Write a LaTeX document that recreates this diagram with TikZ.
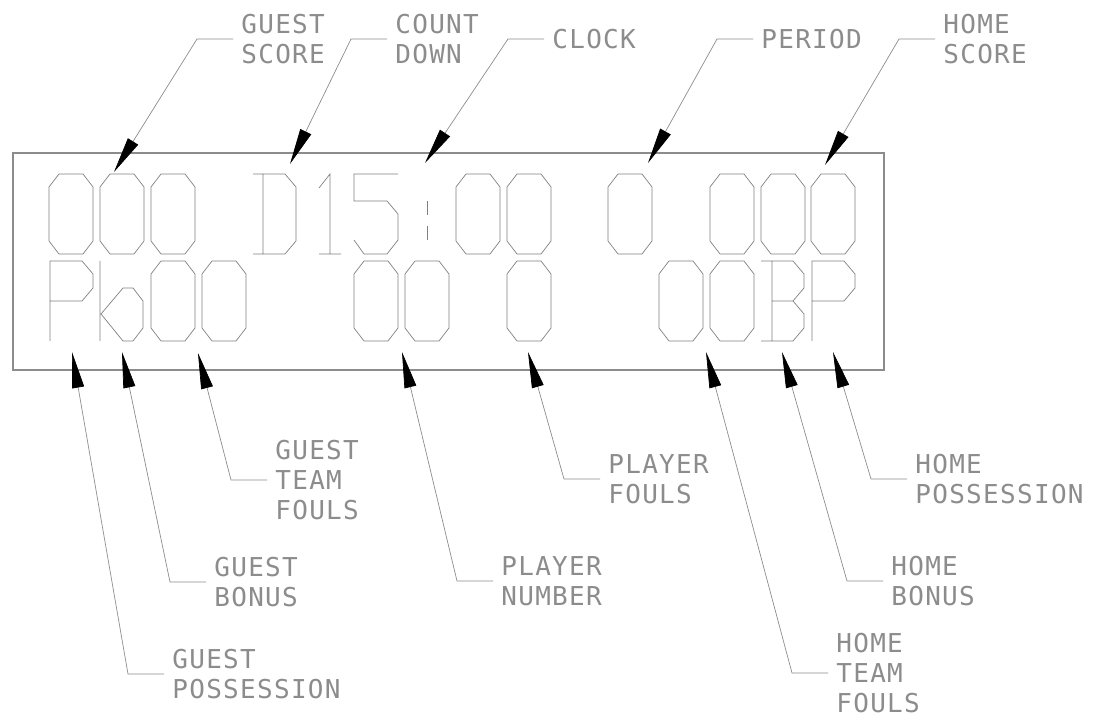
\documentclass[tikz,border=0pt]{standalone}
\usepackage{fontspec}
\newfontfamily\cadfont[LetterSpace=5]{DejaVu Sans Mono}
\usetikzlibrary{arrows.meta}

\tikzset{
	seg/.style={draw=black!50, line width=0.35pt, line join=miter},
	frame/.style={draw=black!45, line width=0.6pt},
	lead/.style={draw=black!45, line width=0.35pt, -{Triangle[length=18pt,width=6pt,color=black]}},
	lbl/.style={anchor=west, align=left, inner xsep=4pt, inner ysep=0pt, text=black!45, font=\cadfont\fontsize{13}{15}\selectfont},
	zero/.pic={\draw[seg] (0,13)--(10,0)--(34,0)--(44,13)--(44,67)--(34,80)--(10,80)--(0,67)--cycle;},
	dee/.pic={\draw[seg] (0,0)--(32,0)--(43,13)--(43,67)--(32,80)--(0,80) (10,0)--(10,80);},
	one/.pic={\draw[seg] (0,14)--(11,0)--(11,80) (0,80)--(22,80);},
	five/.pic={\draw[seg] (44,0)--(0,0)--(0,27)--(33,27)--(44,40)--(44,66)--(33,80)--(10,80)--(0,66);},
	colon/.pic={\draw[seg] (0,27)--(0,41) (0,52)--(0,66);},
	pee/.pic={\draw[seg] (0,80)--(0,0)--(32,0)--(43,13)--(43,27)--(32,40)--(0,40);},
	bonus/.pic={\draw[seg] (0,0)--(0,80) (1,53)--(23,27)--(33,27)--(43,40)--(43,67)--(33,80)--(23,80)--cycle;},
	bee/.pic={\draw[seg] (0,0)--(32,0)--(43,13)--(43,27)--(32,40)--(11,40) (32,40)--(43,53)--(43,67)--(32,80)--(0,80) (11,0)--(11,80);}
}

\begin{document}
\begin{tikzpicture}[x=0.5pt, y=-0.5pt]
	\useasboundingbox (0,0) rectangle (1102,726);
	\draw[frame] (13,153) rectangle (884,370);

	\foreach \x in {49,100,151,456,507,608,710,761,811}
		\pic at (\x,174) {zero};
	\pic at (253,174) {dee};
	\pic at (319,174) {one};
	\pic at (354,174) {five};
	\pic at (427,174) {colon};

	\pic at (50,261) {pee};
	\pic at (100,261) {bonus};
	\foreach \x in {151,202,354,405,507,659,710}
		\pic at (\x,261) {zero};
	\pic at (761,261) {bee};
	\pic at (812,261) {pee};

	\node[lbl] (gscore) at (233,39) {GUEST\\SCORE};
	\node[lbl] (cdown) at (387,39) {COUNT\\DOWN};
	\node[lbl] (clock) at (544,39) {CLOCK};
	\node[lbl] (period) at (753,39) {PERIOD};
	\node[lbl] (hscore) at (935,39) {HOME\\SCORE};

	\node[lbl] (gposs) at (164,674) {GUEST\\POSSESSION};
	\node[lbl] (gbonus) at (206,582) {GUEST\\BONUS};
	\node[lbl] (gfouls) at (267,480) {GUEST\\TEAM\\FOULS};
	\node[lbl] (pnum) at (493,581) {PLAYER\\NUMBER};
	\node[lbl] (pfouls) at (600,479) {PLAYER\\FOULS};
	\node[lbl] (hfouls) at (828,673) {HOME\\TEAM\\FOULS};
	\node[lbl] (hbonus) at (883,581) {HOME\\BONUS};
	\node[lbl] (hposs) at (907,479) {HOME\\POSSESSION};

	\coordinate (gscoretip) at (114,172);
	\coordinate (cdowntip) at (290,164);
	\coordinate (clocktip) at (425,163);
	\coordinate (periodtip) at (648,163);
	\coordinate (hscoretip) at (825,165);
	\coordinate (gposstip) at (72,352);
	\coordinate (gbonustip) at (122,352);
	\coordinate (gfoulstip) at (198,353);
	\coordinate (pnumtip) at (402,352);
	\coordinate (pfoulstip) at (528,352);
	\coordinate (hfoulstip) at (706,352);
	\coordinate (hbonustip) at (782,352);
	\coordinate (hposstip) at (833,352);

	\foreach \n in {gscore,cdown,clock,period,hscore,gposs,gbonus,gfouls,pnum,pfouls,hfouls,hbonus,hposs}
		\draw[lead] (\n.west) -- ++(-36,0) -- (\n tip);
\end{tikzpicture}
\end{document}
